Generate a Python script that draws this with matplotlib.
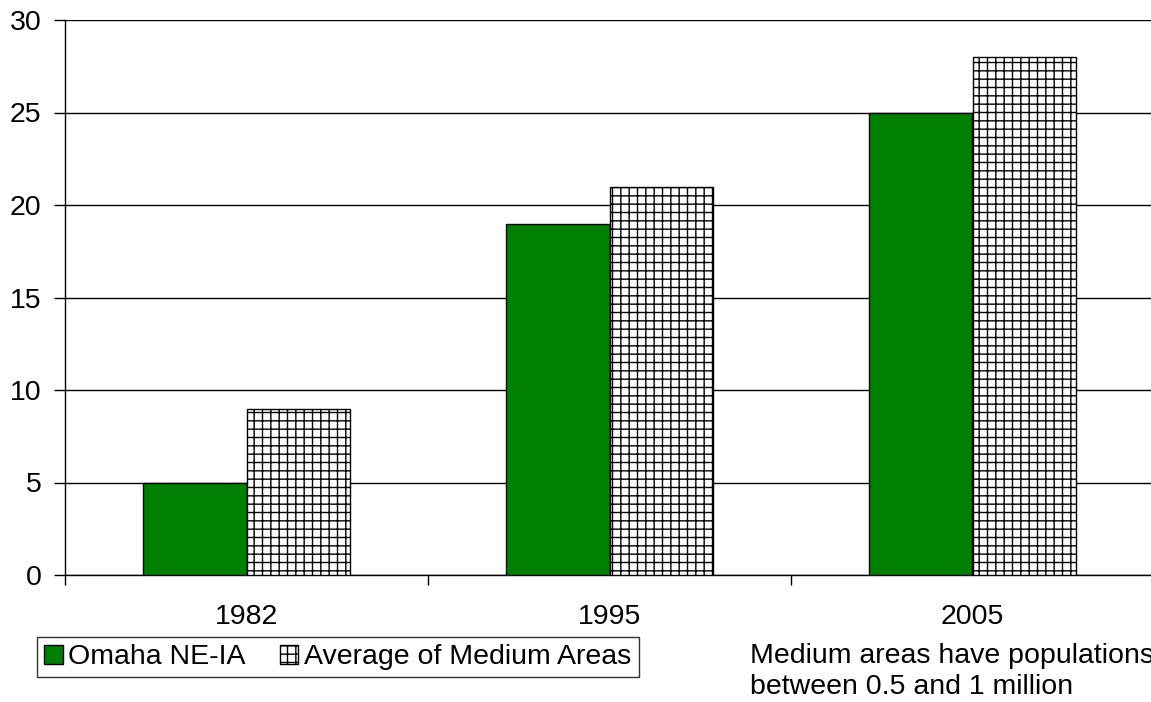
import matplotlib
matplotlib.use("Agg")
import matplotlib.pyplot as plt
from matplotlib.patches import Patch

years = ["1982", "1995", "2005"]
omaha = [5, 19, 25]
medium_avg = [9, 21, 28]
series_names = ["Omaha NE-IA", "Average of Medium Areas"]
yticks = [0, 5, 10, 15, 20, 25, 30]
note = "Medium areas have populations\nbetween 0.5 and 1 million"

plt.rcParams['font.family'] = ['Liberation Sans', 'DejaVu Sans']
plt.rcParams['hatch.linewidth'] = 1.0

FS = 20.5
W, H = 1151, 702
fig = plt.figure(figsize=(W / 100, H / 100), dpi=100)
ax = fig.add_axes([65 / W, 127 / H, 1089 / W, 555 / H])

x = list(range(len(years)))
bw = 0.285
ax.bar([i - bw / 2 for i in x], omaha, width=bw, color='#008000',
       edgecolor='black', linewidth=1.0, zorder=3)
ax.bar([i + bw / 2 for i in x], medium_avg, width=bw, color='white',
       edgecolor='black', hatch='++', linewidth=1.0, zorder=3)

ax.set_xlim(-0.5, 2.5)
ax.set_ylim(0, 30)
ax.set_yticks(yticks)
ax.set_yticklabels([str(v) for v in yticks], fontsize=FS)
ax.set_xticks([-0.5, 0.5, 1.5, 2.5])
ax.set_xticklabels([])
ax.set_xticks(x, minor=True)
ax.set_xticklabels(years, minor=True, fontsize=FS)
ax.tick_params(axis='x', which='minor', length=0, pad=21)
ax.tick_params(axis='x', which='major', length=7, width=1, direction='out')
ax.tick_params(axis='y', length=8, width=1, direction='out', pad=9)
ax.yaxis.grid(True, color='black', linewidth=1.0, zorder=0)
for s in ['top', 'right']:
    ax.spines[s].set_visible(False)
ax.spines['left'].set_linewidth(1.0)
ax.spines['bottom'].set_linewidth(1.0)

handles = [Patch(facecolor='#008000', edgecolor='black', label=series_names[0]),
           Patch(facecolor='white', edgecolor='black', hatch='++', label=series_names[1])]
leg = fig.legend(handles=handles, loc='upper left',
                 bbox_to_anchor=(37 / W, 1 - 637 / H), ncol=2, fontsize=FS,
                 frameon=True, fancybox=False, edgecolor='black',
                 handlelength=0.65, handleheight=0.65, handletextpad=0.2,
                 columnspacing=1.2, borderpad=0.25, borderaxespad=0)
leg.get_frame().set_linewidth(1.0)

fig.text(750 / W, 1 - 643 / H, note, fontsize=FS, va='top', ha='left',
         linespacing=1.25)

fig.savefig("out.png", dpi=100)
